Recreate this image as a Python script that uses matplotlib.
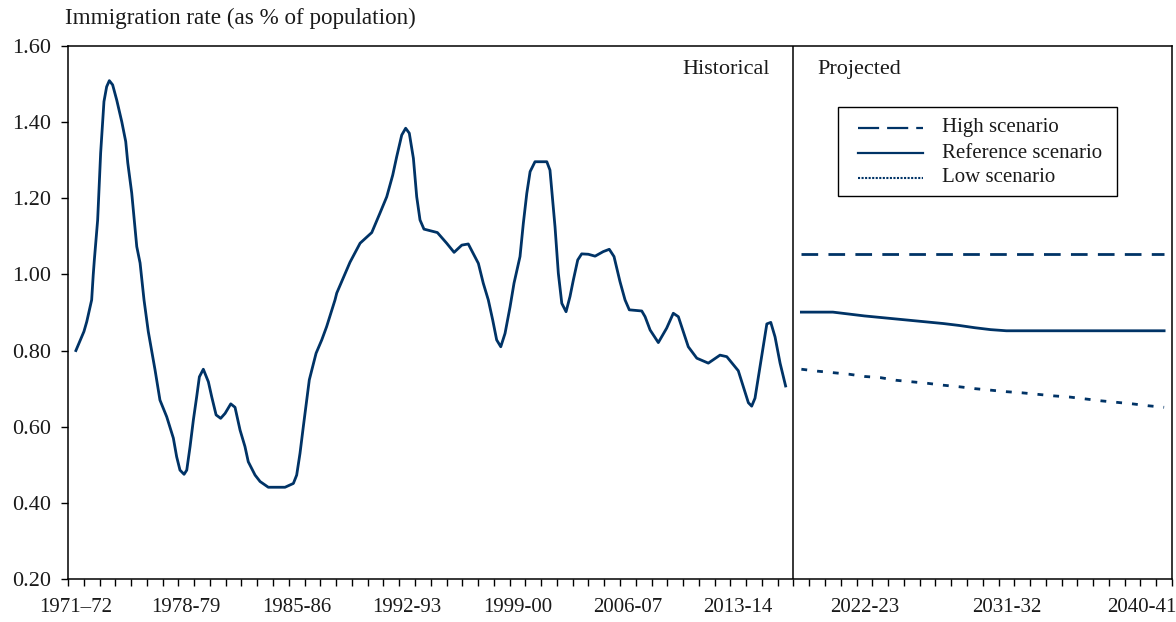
import matplotlib
matplotlib.use("Agg")
import matplotlib.pyplot as plt
from matplotlib.lines import Line2D
from matplotlib.patches import Rectangle
import numpy as np

plt.rcParams['font.family'] = ['Liberation Serif', 'DejaVu Serif']

# ---------------- data ----------------
base_year = 1971  # position 0 = 1971-72
hist_t = [0.00, 0.51, 0.69, 1.00, 1.10, 1.17, 1.38, 1.57, 1.78, 1.95, 2.12, 2.33, 2.59, 2.91,
          3.16, 3.29, 3.54, 3.86, 4.07, 4.32, 4.59, 5.02, 5.33, 5.76, 6.18, 6.39, 6.60, 6.86,
          7.03, 7.24, 7.45, 7.66, 7.83, 8.08, 8.40, 8.61, 8.89, 9.18, 9.46, 9.82, 10.09, 10.41,
          10.72, 10.93, 11.36, 11.68, 12.20, 13.26, 13.79, 14.00, 14.21, 14.42, 14.80, 15.23,
          15.59, 15.90, 16.43, 16.54, 17.38, 18.02, 18.76, 19.28, 19.71, 20.09, 20.34, 20.66,
          20.91, 21.14, 21.40, 21.61, 21.82, 22.07, 22.92, 23.51, 23.98, 24.47, 24.88, 25.52,
          25.83, 26.15, 26.43, 26.68, 26.94, 27.21, 27.53, 27.78, 28.16, 28.37, 28.59, 28.80,
          29.11, 29.86, 30.06, 30.17, 30.38, 30.59, 30.81, 31.08, 31.33, 31.54, 31.82, 32.07,
          32.49, 32.92, 33.44, 33.82, 34.12, 34.50, 34.82, 35.09, 35.88, 36.09, 36.41, 36.93,
          37.46, 37.88, 38.20, 38.48, 38.83, 39.37, 40.10, 40.84, 41.27, 42.00, 42.32, 42.64,
          42.85, 43.06, 43.38, 43.81, 44.06, 44.33, 44.65, 45.00]
hist_rate = [0.800, 0.850, 0.876, 0.933, 0.999, 1.038, 1.143, 1.319, 1.454, 1.493, 1.509, 1.498,
             1.458, 1.401, 1.349, 1.293, 1.214, 1.073, 1.030, 0.933, 0.850, 0.749, 0.670, 0.626,
             0.570, 0.521, 0.486, 0.475, 0.486, 0.548, 0.618, 0.679, 0.731, 0.751, 0.718, 0.679,
             0.631, 0.622, 0.635, 0.660, 0.651, 0.591, 0.548, 0.508, 0.473, 0.456, 0.441, 0.441,
             0.451, 0.473, 0.530, 0.600, 0.723, 0.793, 0.828, 0.863, 0.933, 0.951, 1.032, 1.082,
             1.110, 1.161, 1.204, 1.261, 1.309, 1.366, 1.384, 1.371, 1.305, 1.204, 1.143, 1.119,
             1.110, 1.082, 1.058, 1.077, 1.080, 1.029, 0.977, 0.933, 0.880, 0.828, 0.810, 0.845,
             0.915, 0.977, 1.047, 1.134, 1.213, 1.270, 1.296, 1.296, 1.274, 1.222, 1.125, 1.003,
             0.924, 0.902, 0.942, 0.985, 1.038, 1.054, 1.053, 1.048, 1.060, 1.066, 1.047, 0.981,
             0.933, 0.907, 0.904, 0.889, 0.854, 0.821, 0.859, 0.898, 0.889, 0.854, 0.810, 0.780,
             0.767, 0.788, 0.784, 0.747, 0.705, 0.663, 0.654, 0.675, 0.758, 0.870, 0.874, 0.836,
             0.767, 0.707]

proj_start = 2017  # 2017-18
high_rate = [1.053] * 24
ref_rate = [0.901, 0.901, 0.901, 0.896, 0.891, 0.887, 0.883, 0.879, 0.875, 0.871, 0.866, 0.860,
            0.855, 0.852, 0.852, 0.852, 0.852, 0.852, 0.852, 0.852, 0.852, 0.852, 0.852, 0.852]
low_rate = [0.751, 0.746, 0.742, 0.738, 0.732, 0.729, 0.722, 0.718, 0.714, 0.709, 0.705, 0.700,
            0.696, 0.692, 0.689, 0.685, 0.681, 0.678, 0.673, 0.668, 0.664, 0.660, 0.655, 0.651]

xtick_labels = ["1971\u201372", "1978-79", "1985-86", "1992-93", "1999-00", "2006-07",
                "2013-14", "2022-23", "2031-32", "2040-41"]
xtick_pos = [0, 7, 14, 21, 28, 35, 42, 50, 59, 67.6]
first_year, last_year = 1971, 2040
yticks = [0.20, 0.40, 0.60, 0.80, 1.00, 1.20, 1.40, 1.60]
legend_labels = ["High scenario", "Reference scenario", "Low scenario"]

color = '#003366'
text_color = '#1a1a1a'

# ---------------- figure ----------------
W, H = 1176, 622
fig = plt.figure(figsize=(W/100, H/100), dpi=100)
ax = fig.add_axes([68/W, 1 - 579/H, (1172-68)/W, (579-46)/H])

ax.plot(hist_t, hist_rate, color=color, lw=2.0, solid_joinstyle='round')
proj_x = np.arange(len(ref_rate)) + (proj_start - base_year)
high_ls = (0, (6.0, 3.7))
low_ls = (0, (2.1, 3.6))
ax.plot(proj_x, high_rate, color=color, lw=2.0, linestyle=high_ls)
ax.plot(proj_x, ref_rate, color=color, lw=2.0)
ax.plot(proj_x, low_rate, color=color, lw=2.0, linestyle=low_ls)

# divider between historical and projected
div_x = proj_start - base_year - 0.5
ax.axvline(div_x, color='black', lw=1.1)

ax.set_xlim(-0.5, last_year - first_year + 0.5)
ax.set_ylim(0.2, 1.6)

# y axis
ax.set_yticks(yticks)
ax.set_yticklabels([f"{v:.2f}" for v in yticks], fontsize=16, color=text_color)
ax.tick_params(axis='y', direction='out', length=5, width=1, pad=7)

# x axis: ticks on year boundaries, labels placed separately
ax.xaxis.remove_overlapping_locs = False
ax.set_xticks(np.arange(-0.5, last_year - first_year + 1.0, 1.0))
ax.set_xticklabels([])
ax.tick_params(axis='x', which='major', direction='out', length=5, width=1)
ax.set_xticks(xtick_pos, minor=True)
ax.set_xticklabels(xtick_labels, minor=True, fontsize=15, color=text_color)
ax.tick_params(axis='x', which='minor', length=0, pad=14)

for s in ax.spines.values():
    s.set_linewidth(1.1)
    s.set_color('black')

# texts
fig.text(65/W, 1 - 18/H, "Immigration rate (as % of population)", fontsize=16.7,
         ha='left', va='center', color=text_color)
ax.text(div_x - 1.5, 1.537, "Historical", fontsize=16, ha='right', va='center', color=text_color)
ax.text(div_x + 1.5, 1.537, "Projected", fontsize=16, ha='left', va='center', color=text_color)

# legend (drawn in figure pixel positions)
fig.patches.append(Rectangle((838/W, 1 - 196/H), (1117-838)/W, (196-107)/H,
                             transform=fig.transFigure, facecolor='white',
                             edgecolor='black', lw=1.0, zorder=5))
leg_styles = [dict(linestyle=(0, (9.5, 3.6)), lw=1.6),
              dict(linestyle='-', lw=1.6),
              dict(linestyle=(0, (1.0, 0.7)), lw=1.5)]
for i, (lab, st) in enumerate(zip(legend_labels, leg_styles)):
    yc = 1 - (128 + 25 * i) / H
    fig.lines.append(Line2D([858/W, 923/W], [yc, yc], transform=fig.transFigure,
                            color=color, zorder=6, **st))
    fig.text(942/W, yc, lab, fontsize=15, ha='left', va='center', color=text_color, zorder=6)

fig.savefig("out.png", dpi=100)
